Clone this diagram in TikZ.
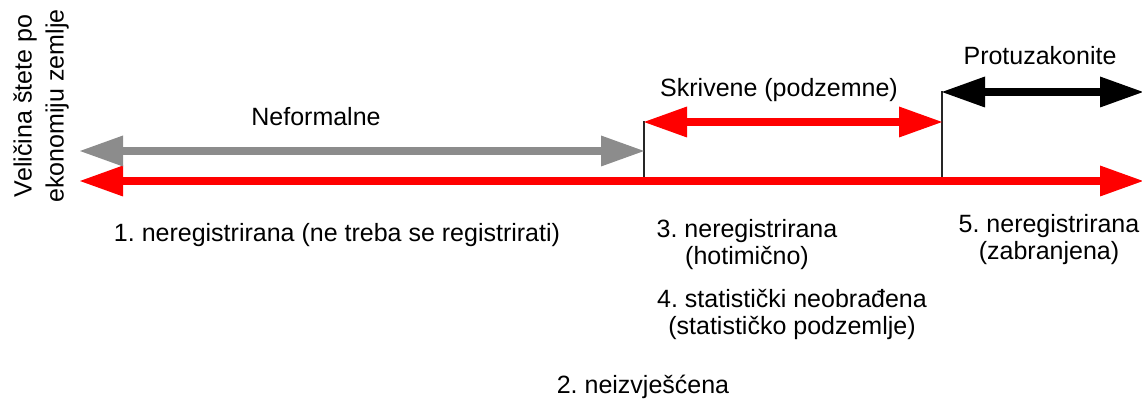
\documentclass[tikz,border=0pt]{standalone}
\usepackage{fontspec}
\setmainfont{Liberation Sans}
\usetikzlibrary{arrows.meta}
\definecolor{arrgray}{RGB}{140,140,140}
\definecolor{arrred}{RGB}{255,0,0}
\frenchspacing
\begin{document}
\begin{tikzpicture}[x=1pt,y=-1pt,
  lbl/.style={font=\fontsize{25}{27}\selectfont, inner sep=0pt, align=center},
  bigarrow/.style={line width=8.5pt, {Triangle[length=43pt,width=31pt,line width=0pt]}-{Triangle[length=43pt,width=31pt,line width=0pt]}},
  tickline/.style={line width=1.3pt, draw=black!85}]
\useasboundingbox (0,0) rectangle (1142,403);
% end points
\coordinate (mL) at (80,181);
\coordinate (mR) at (1143,181);
\coordinate (gL) at (80,151);
\coordinate (gR) at (644,151);
\coordinate (sL) at (644,122);
\coordinate (sR) at (942,122);
\coordinate (pL) at (942,92);
\coordinate (pR) at (1143,92);
\coordinate (t1b) at (644,181);
\coordinate (t1t) at (644,121);
\coordinate (t2b) at (942,181);
\coordinate (t2t) at (942,91);
% ticks
\draw[tickline] (t1b) -- (t1t);
\draw[tickline] (t2b) -- (t2t);
% arrows
\draw[bigarrow, draw=arrred, fill=arrred] (mL) -- (mR);
\draw[bigarrow, draw=arrgray, fill=arrgray] (gL) -- (gR);
\draw[bigarrow, draw=arrred, fill=arrred] (sL) -- (sR);
\draw[bigarrow, draw=black, fill=black] (pL) -- (pR);
% labels
\node[lbl, anchor=base] (neform) at (316,126) {Neformalne};
\node[lbl, anchor=base] (skriv) at (779,97) {Skrivene (podzemne)};
\node[lbl, anchor=base] (protu) at (1040,65) {Protuzakonite};
\node[lbl, anchor=base] (l1) at (337,241) {1. neregistrirana (ne treba se registrirati)};
\node[lbl, anchor=north] (l3) at (747,219) {3. neregistrirana\\(hotimično)};
\node[lbl, anchor=north] (l4) at (792,289) {4. statistički neobrađena\\(statističko podzemlje)};
\node[lbl, anchor=north] (l5) at (1049,214) {5. neregistrirana\\(zabranjena)};
\node[lbl, anchor=base] (l2) at (643,393) {2. neizvješćena};
\node[lbl, rotate=90, font=\fontsize{25}{32}\selectfont] (ylab) at (41,106) {Veličina štete po\\ekonomiju zemlje};
\end{tikzpicture}
\end{document}
